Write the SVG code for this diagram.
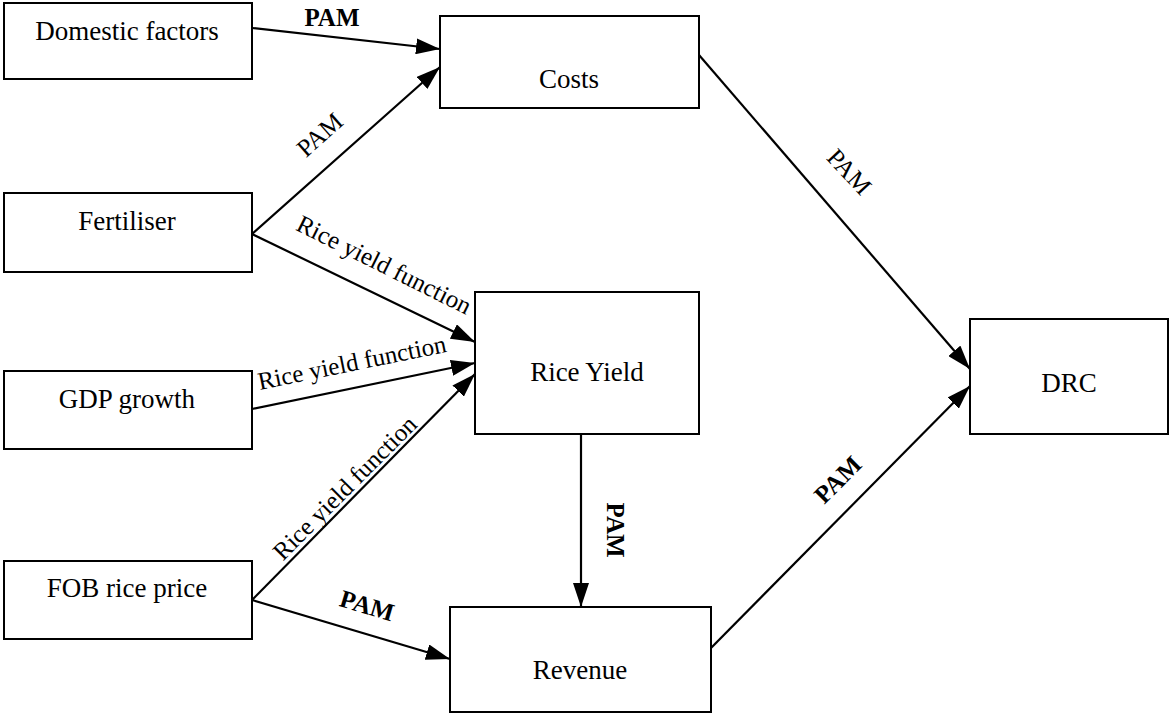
<svg xmlns="http://www.w3.org/2000/svg" width="1169" height="713" viewBox="0 0 1169 713">
<style>
.box{fill:#fff;stroke:#000;stroke-width:2}
text{font-family:'Liberation Serif','DejaVu Serif','Times New Roman',serif;fill:#000;text-anchor:middle}
.nl{font-size:27px}
.el{font-size:25px}
.b{font-weight:bold}
.c{fill:none;stroke:#000;stroke-width:2.2;marker-end:url(#arr)}
</style>
<defs>
<marker id="arr" viewBox="0 0 24 16" refX="24" refY="8" markerWidth="24" markerHeight="16" orient="auto" markerUnits="userSpaceOnUse">
<path d="M0,0 L24,8 L0,16 z" fill="#000"/>
</marker>
</defs>
<rect width="1169" height="713" fill="#fff"/>
<g id="connectors">
<line class="c" x1="252" y1="28" x2="440" y2="49"/>
<line class="c" x1="252" y1="234" x2="440" y2="67"/>
<line class="c" x1="252" y1="234" x2="475" y2="342"/>
<line class="c" x1="252" y1="409" x2="475" y2="363"/>
<line class="c" x1="252" y1="600" x2="475" y2="374"/>
<line class="c" x1="252" y1="600" x2="450" y2="659"/>
<line class="c" x1="581" y1="434" x2="581" y2="607"/>
<line class="c" x1="699" y1="55" x2="970" y2="369"/>
<line class="c" x1="711" y1="648" x2="970" y2="386"/>
<text class="el b" x="332" y="26">PAM</text>
<text class="el" transform="translate(320,135) rotate(-41.6)" x="0" y="8">PAM</text>
<text class="el" transform="translate(384,265) rotate(26.5)" x="0" y="8">Rice yield function</text>
<text class="el" transform="translate(352,363) rotate(-11.5)" x="0" y="8">Rice yield function</text>
<text class="el" transform="translate(345,488) rotate(-45)" x="0" y="8">Rice yield function</text>
<text class="el b" transform="translate(367,606) rotate(16.5)" x="0" y="8">PAM</text>
<text class="el b" transform="translate(615,530) rotate(90)" x="0" y="8">PAM</text>
<text class="el" transform="translate(849,172) rotate(47)" x="0" y="8">PAM</text>
<text class="el b" transform="translate(838,480) rotate(-45)" x="0" y="8">PAM</text>
</g>
<g id="domestic">
<rect class="box" x="4" y="3" width="248" height="76"/>
<text class="nl" x="127" y="40">Domestic factors</text>
</g>
<g id="fertiliser">
<rect class="box" x="4" y="193" width="248" height="79"/>
<text class="nl" x="127" y="230">Fertiliser</text>
</g>
<g id="gdp">
<rect class="box" x="4" y="371" width="248" height="78"/>
<text class="nl" x="127" y="408">GDP growth</text>
</g>
<g id="fob">
<rect class="box" x="4" y="561" width="248" height="78"/>
<text class="nl" x="127" y="597">FOB rice price</text>
</g>
<g id="costs">
<rect class="box" x="440" y="16" width="259" height="92"/>
<text class="nl" x="569" y="88">Costs</text>
</g>
<g id="riceyield">
<rect class="box" x="475" y="292" width="224" height="142"/>
<text class="nl" x="587" y="381">Rice Yield</text>
</g>
<g id="revenue">
<rect class="box" x="450" y="607" width="261" height="105"/>
<text class="nl" x="580" y="679">Revenue</text>
</g>
<g id="drc">
<rect class="box" x="970" y="319" width="198" height="115"/>
<text class="nl" x="1069" y="392">DRC</text>
</g>
</svg>
